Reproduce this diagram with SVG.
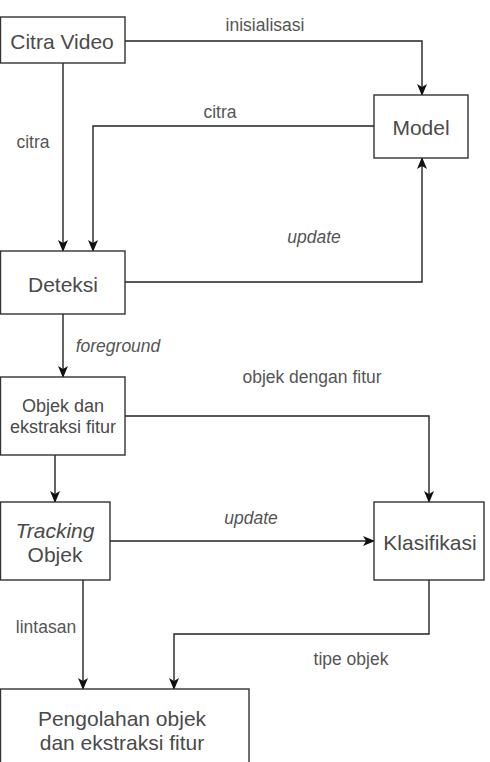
<svg xmlns="http://www.w3.org/2000/svg" width="490" height="762" viewBox="0 0 490 762">
<defs>
<marker id="arr" viewBox="0 0 12 10" markerWidth="12" markerHeight="10" refX="11" refY="5" orient="auto" markerUnits="userSpaceOnUse">
<path d="M0,0 L12,5 L0,10 L3,5 Z" fill="#111"/>
</marker>
<style>
.box{fill:#fff;stroke:#333;stroke-width:1.4}
.nt{font-family:"Liberation Sans",Arial,sans-serif;font-size:21px;fill:#4a4a4a;text-anchor:middle;dominant-baseline:central}
.st{font-family:"Liberation Sans",Arial,sans-serif;font-size:18px;fill:#4a4a4a;text-anchor:middle;dominant-baseline:central}
.lb{font-family:"Liberation Sans",Arial,sans-serif;font-size:17.5px;fill:#555;text-anchor:middle;dominant-baseline:central}
.it{font-style:italic}
.cn{fill:none;stroke:#222;stroke-width:1.4;marker-end:url(#arr)}
</style>
</defs>
<rect width="490" height="762" fill="#fff"/>
<g id="connectors">
<path class="cn" d="M125,41 H422 V95"/>
<path class="cn" d="M374,126 H93 V251"/>
<path class="cn" d="M63,63 V251"/>
<path class="cn" d="M125,282 H422 V158"/>
<path class="cn" d="M63,314 V377"/>
<path class="cn" d="M125,416 H429 V502"/>
<path class="cn" d="M55,455 V502"/>
<path class="cn" d="M110,541 H374"/>
<path class="cn" d="M83,580 V689"/>
<path class="cn" d="M429,580 V634 H174 V689"/>
<text class="lb" x="265" y="25">inisialisasi</text>
<text class="lb" x="220" y="112">citra</text>
<text class="lb" x="33" y="142">citra</text>
<text class="lb it" x="314" y="237">update</text>
<text class="lb it" x="118" y="346">foreground</text>
<text class="lb" x="312" y="377">objek dengan fitur</text>
<text class="lb it" x="251" y="518">update</text>
<text class="lb" x="46" y="627">lintasan</text>
<text class="lb" x="351" y="659">tipe objek</text>
</g>
<g id="citra-video">
<rect class="box" x="0.5" y="17" width="124.5" height="46"/>
<text class="nt" x="62" y="41">Citra Video</text>
</g>
<g id="model">
<rect class="box" x="374" y="95" width="94" height="63"/>
<text class="nt" x="421" y="127">Model</text>
</g>
<g id="deteksi">
<rect class="box" x="0.5" y="251" width="124.5" height="63"/>
<text class="nt" x="63" y="284">Deteksi</text>
</g>
<g id="objek-ekstraksi">
<rect class="box" x="0.5" y="377" width="124.5" height="78"/>
<text class="st" x="63" y="406">Objek dan</text>
<text class="st" x="63" y="427">ekstraksi fitur</text>
</g>
<g id="tracking">
<rect class="box" x="0.5" y="502" width="109.5" height="78"/>
<text class="nt it" x="55" y="530">Tracking</text>
<text class="nt" x="55" y="554">Objek</text>
</g>
<g id="klasifikasi">
<rect class="box" x="374" y="502" width="110" height="78"/>
<text class="nt" x="430" y="542">Klasifikasi</text>
</g>
<g id="pengolahan">
<rect class="box" x="0.5" y="689" width="248.5" height="80"/>
<text class="nt" x="122" y="718">Pengolahan objek</text>
<text class="nt" x="122" y="742">dan ekstraksi fitur</text>
</g>
</svg>
